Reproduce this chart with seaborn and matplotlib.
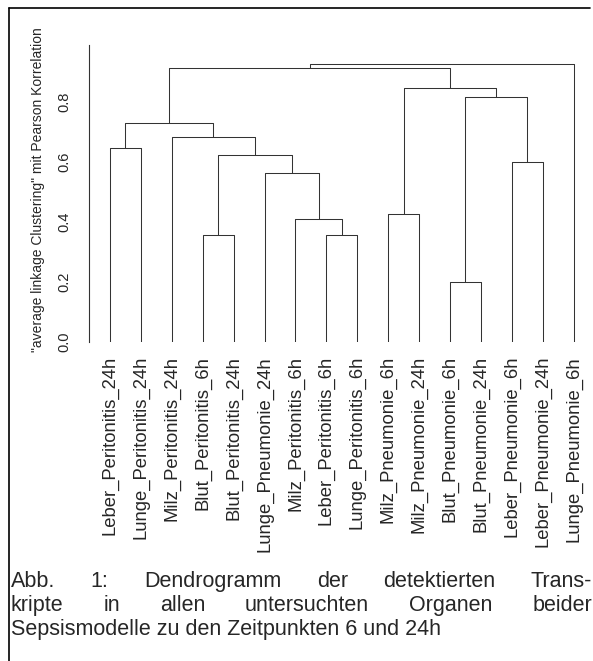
import pandas as pd
import matplotlib
matplotlib.use("Agg")
import matplotlib.pyplot as plt
import seaborn as sns
from matplotlib.lines import Line2D

# Leaves in the order the dendrogram draws them
leaves = ["Leber_Peritonitis_24h", "Lunge_Peritonitis_24h", "Milz_Peritonitis_24h",
          "Blut_Peritonitis_6h", "Blut_Peritonitis_24h", "Lunge_Pneumonie_24h",
          "Milz_Peritonitis_6h", "Leber_Peritonitis_6h", "Lunge_Peritonitis_6h",
          "Milz_Pneumonie_6h", "Milz_Pneumonie_24h", "Blut_Pneumonie_6h",
          "Blut_Pneumonie_24h", "Leber_Pneumonie_6h", "Leber_Pneumonie_24h",
          "Lunge_Pneumonie_6h"]

# Merge steps: a string is a leaf, an int is an earlier merge step
merge_left = ["Blut_Pneumonie_6h", "Blut_Peritonitis_6h", "Leber_Peritonitis_6h",
              "Milz_Peritonitis_6h", "Milz_Pneumonie_6h", "Lunge_Pneumonie_24h",
              "Leber_Pneumonie_6h", 1, "Leber_Peritonitis_24h", "Milz_Peritonitis_24h",
              8, 0, 4, 10, 13]
merge_right = ["Blut_Pneumonie_24h", "Blut_Peritonitis_24h", "Lunge_Peritonitis_6h",
               2, "Milz_Pneumonie_24h", 3, "Leber_Pneumonie_24h", 5,
               "Lunge_Peritonitis_24h", 7, 9, 6, 11, 12, "Lunge_Pneumonie_6h"]
merge_height = [0.199, 0.358, 0.357, 0.410, 0.427, 0.563, 0.601, 0.623,
                0.646, 0.682, 0.729, 0.816, 0.846, 0.912, 0.926]

y_ticks = [0.0, 0.2, 0.4, 0.6, 0.8]

caption_1 = ["Abb.", "1:", "Dendrogramm", "der", "detektierten", "Trans-"]
caption_2 = ["kripte", "in", "allen", "untersuchten", "Organen", "beider"]
caption_3 = "Sepsismodelle zu den Zeitpunkten 6 und 24h"

# build the U-shaped links like R's plot(hclust)
pos = {name: i + 1 for i, name in enumerate(leaves)}
node_x, node_h = [], []

def where(n):
    if isinstance(n, str):
        return pos[n], 0.0
    return node_x[n], node_h[n]

rows = []
for k, (a, b, h) in enumerate(zip(merge_left, merge_right, merge_height)):
    xa, ha = where(a)
    xb, hb = where(b)
    for x, y in [(xa, ha), (xa, h), (xb, h), (xb, hb)]:
        rows.append({"merge": k, "x": x, "y": y})
    node_x.append((xa + xb) / 2)
    node_h.append(h)
links = pd.DataFrame(rows)

sns.set_style("white")
plt.rcParams["font.family"] = ["Liberation Sans", "DejaVu Sans"]

W, H = 593, 661
fig = plt.figure(figsize=(W / 100, H / 100), dpi=100)
fig.patch.set_facecolor("white")
ax = fig.add_axes([89 / W, (H - 342) / H, (593 - 89) / W, 297 / H])

sns.lineplot(data=links, x="x", y="y", units="merge", estimator=None, sort=False,
             color="#333333", linewidth=0.75, ax=ax)

ax.set_xlim(0.32, 16.63)
ax.set_ylim(0, 0.99)
ax.set_xticks(range(1, len(leaves) + 1))
ax.set_xticklabels(leaves)
ax.set_yticks(y_ticks)
ax.set_yticklabels([f"{v:.1f}" for v in y_ticks])
ax.set_xlabel("")
ax.set_ylabel('"average linkage Clustering" mit Pearson Korrelation', fontsize=10, va="center")
ax.yaxis.set_label_coords((38 - 89) / (593 - 89), (342 - 190) / 297)
ax.tick_params(axis="x", length=0, pad=10, labelsize=13.3, labelrotation=90)
ax.tick_params(axis="y", length=6.5, width=0.8, pad=6, labelsize=10.5,
               labelrotation=90, color="#333333")
plt.setp(ax.get_yticklabels(), va="center")
for s in ["top", "right", "bottom"]:
    ax.spines[s].set_visible(False)
ax.spines["left"].set_color("#333333")
ax.spines["left"].set_linewidth(0.8)
ax.set_facecolor("none")

# frame of the figure box
fig.add_artist(Line2D([9 / W, 9 / W], [0, 1 - 8 / H], transform=fig.transFigure,
                      color="black", lw=1.2))
fig.add_artist(Line2D([9 / W, 590 / W], [1 - 8 / H, 1 - 8 / H], transform=fig.transFigure,
                      color="black", lw=1.2))

# justified caption
cap_size = 15.5
fig.canvas.draw()
renderer = fig.canvas.get_renderer()

def justified(words, y_px, left_px=11, right_px=592):
    texts = [fig.text(0, 1 - y_px / H, w, fontsize=cap_size, va="baseline") for w in words]
    widths = [t.get_window_extent(renderer).width for t in texts]
    gap = (right_px - left_px - sum(widths)) / (len(words) - 1)
    x = left_px
    for t, w in zip(texts, widths):
        t.set_x(x / W)
        x += w + gap

justified(caption_1, 587)
justified(caption_2, 611)
fig.text(11 / W, 1 - 635 / H, caption_3, fontsize=cap_size, va="baseline")

fig.savefig("out.png", dpi=100)
